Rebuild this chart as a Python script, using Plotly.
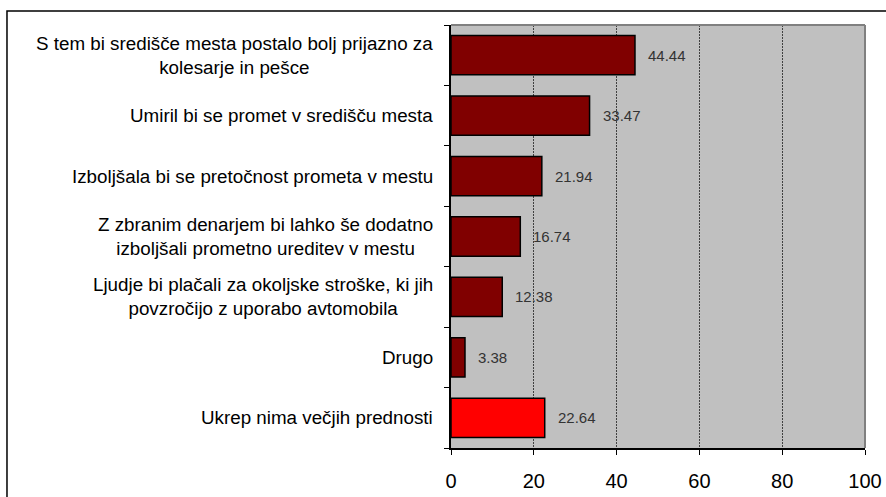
import plotly.graph_objects as go

categories = [
    "S tem bi središče mesta postalo bolj prijazno za<br>kolesarje in pešce",
    "Umiril bi se promet v središču mesta",
    "Izboljšala bi se pretočnost prometa v mestu",
    "Z zbranim denarjem bi lahko še dodatno<br>izboljšali prometno ureditev v mestu",
    "Ljudje bi plačali za okoljske stroške, ki jih<br>povzročijo z uporabo avtomobila",
    "Drugo",
    "Ukrep nima večjih prednosti",
]
values = [44.44, 33.47, 21.94, 16.74, 12.38, 3.38, 22.64]
bar_colors = ["#800000", "#800000", "#800000", "#800000", "#800000", "#800000", "#FF0000"]
x_ticks = [0, 20, 40, 60, 80, 100]

FONT = "Liberation Sans, Arial, sans-serif"
ids = list(range(len(categories)))

fig = go.Figure()
fig.add_trace(go.Bar(
    x=values, y=ids, orientation="h",
    marker=dict(color=bar_colors, line=dict(color="#000000", width=1.5)),
    width=0.65, hoverinfo="skip",
))

annotations = []
for i, (c, v) in enumerate(zip(categories, values)):
    annotations.append(dict(
        x=0, y=i, xref="x", yref="y", text=c, showarrow=False,
        xanchor="right", yanchor="middle", align="center", xshift=-16,
        font=dict(family=FONT, size=18.8, color="#000000"),
    ))
    annotations.append(dict(
        x=v, y=i, xref="x", yref="y", text=f"{v:.2f}", showarrow=False,
        xanchor="left", yanchor="middle", xshift=11,
        font=dict(family=FONT, size=15, color="#333333"),
    ))

shapes = [
    # outer chart border (top and left visible)
    dict(type="rect", xref="paper", yref="paper", x0=-1.0725, x1=1.2, y0=-0.2, y1=1.0332,
         line=dict(color="#000000", width=1.5), fillcolor="rgba(0,0,0,0)", layer="below"),
    # plot area top/right gray border
    dict(type="line", xref="paper", yref="paper", x0=0, x1=1, y0=1, y1=1,
         line=dict(color="#808080", width=2)),
    dict(type="line", xref="paper", yref="paper", x0=1, x1=1, y0=0, y1=1,
         line=dict(color="#808080", width=2)),
]

fig.update_layout(
    width=886, height=497,
    margin=dict(l=451, r=21, t=25, b=49),
    paper_bgcolor="#FFFFFF", plot_bgcolor="#C0C0C0",
    showlegend=False,
    annotations=annotations, shapes=shapes,
    font=dict(family=FONT, color="#000000"),
    xaxis=dict(
        range=[0, 100], tickvals=x_ticks, ticktext=[str(t) for t in x_ticks],
        showgrid=True, gridcolor="#404040", griddash="2px,1px", gridwidth=1,
        showline=True, linecolor="#000000", linewidth=1.5,
        ticks="outside", ticklen=5, tickcolor="#000000", tickwidth=1,
        tickfont=dict(family=FONT, size=20, color="#000000"),
        ticklabelstandoff=9, zeroline=False, fixedrange=True, automargin=False,
    ),
    yaxis=dict(
        range=[len(ids) - 0.5, -0.5],
        showticklabels=False, showgrid=False, zeroline=False,
        showline=True, linecolor="#000000", linewidth=1.5,
        ticks="outside", ticklen=5, tickcolor="#000000",
        fixedrange=True, automargin=False,
        tickvals=[i - 0.5 for i in range(len(ids) + 1)],
    ),
)

fig.write_html(
    "out.html",
    config={"displayModeBar": False},
    post_script="document.body.style.margin='0';document.body.style.overflow='hidden';",
)
